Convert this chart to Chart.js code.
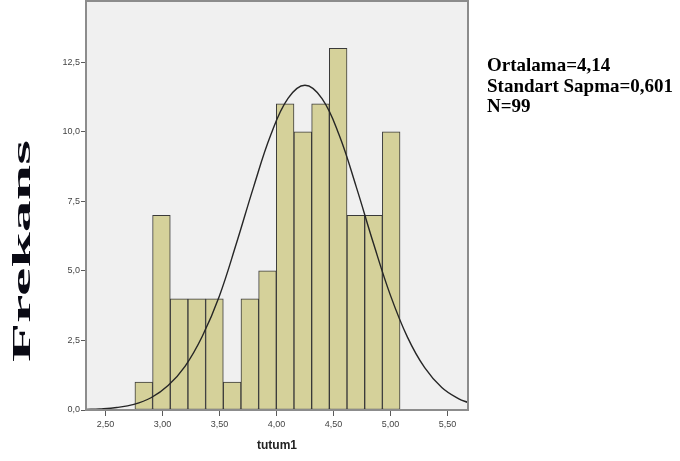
<!DOCTYPE html>
<html>
<head>
<meta charset="utf-8">
<script src="https://cdn.jsdelivr.net/npm/chart.js@4/dist/chart.umd.min.js"></script>
<style>
  html, body { margin: 0; padding: 0; background: #ffffff; }
  canvas { display: block; }
</style>
</head>
<body>
<canvas id="hist" width="680" height="461"></canvas>
<script>
// Histogram bins of tutum1 (bin centres) and their frequencies
const binCenters = [2.8365, 2.9915, 3.1465, 3.3015, 3.4565, 3.6115, 3.7665, 3.9215,
                    4.0765, 4.2315, 4.3865, 4.5415, 4.6965, 4.8515, 5.0065];
const frequencies = [1, 7, 4, 4, 4, 1, 4, 5, 11, 10, 11, 13, 7, 7, 10];

// Fitted normal curve, sampled along the x axis
const curveX = [2.33, 2.45, 2.60, 2.75, 2.90, 3.05, 3.20, 3.35, 3.50, 3.65, 3.80, 3.95,
                4.10, 4.25, 4.40, 4.55, 4.70, 4.85, 5.00, 5.15, 5.30, 5.45, 5.60, 5.68];
const curveY = [0.02, 0.04, 0.09, 0.20, 0.44, 0.88, 1.58, 2.65, 4.10, 6.00, 8.02, 9.88,
                11.19, 11.67, 11.19, 9.88, 8.02, 6.00, 4.12, 2.61, 1.52, 0.81, 0.40, 0.27];

// Axis ticks
const xTicks = [2.5, 3.0, 3.5, 4.0, 4.5, 5.0, 5.5];
const yTicks = [0, 2.5, 5.0, 7.5, 10.0, 12.5];

// Statistics shown beside the plot
const statLines = ['Ortalama=4,14', 'Standart Sapma=0,601', 'N=99'];
const yTitle = 'Frekans';
const xTitle = 'tutum1';

const histData = binCenters.map((x, i) => ({ x: x, y: frequencies[i] }));
const curveData = curveX.map((x, i) => ({ x: x, y: curveY[i] }));

const decorations = {
  id: 'decorations',
  beforeDatasetsDraw(chart) {
    const { ctx, chartArea: a } = chart;
    ctx.save();
    ctx.fillStyle = '#f0f0f0';
    ctx.fillRect(a.left, a.top, a.right - a.left, a.bottom - a.top);
    ctx.restore();
  },
  afterDatasetsDraw(chart) {
    const { ctx, chartArea: a } = chart;
    ctx.save();
    // plot frame
    ctx.strokeStyle = '#8c8c8c';
    ctx.lineWidth = 2;
    ctx.strokeRect(a.left, a.top, a.right - a.left, a.bottom - a.top);

    // y axis title, stretched along the axis
    ctx.save();
    ctx.font = 'bold 26px "Liberation Serif", "DejaVu Serif", serif';
    const w = ctx.measureText(yTitle).width;
    ctx.translate(30, 251);
    ctx.rotate(-Math.PI / 2);
    ctx.scale(222 / w, 1);
    ctx.fillStyle = '#0a0a14';
    ctx.textAlign = 'center';
    ctx.textBaseline = 'alphabetic';
    ctx.fillText(yTitle, 0, 0);
    ctx.restore();

    // x axis title
    ctx.font = 'bold 12px "Liberation Sans", Arial, sans-serif';
    ctx.fillStyle = '#222';
    ctx.textAlign = 'center';
    ctx.textBaseline = 'middle';
    ctx.fillText(xTitle, (a.left + a.right) / 2, 446);

    // statistics block
    ctx.font = 'bold 19px "Liberation Serif", "DejaVu Serif", serif';
    ctx.fillStyle = '#000';
    ctx.textAlign = 'left';
    ctx.textBaseline = 'alphabetic';
    const baselines = [71, 92, 112];
    statLines.forEach((t, i) => ctx.fillText(t, 487, baselines[i]));
    ctx.restore();
  }
};

new Chart(document.getElementById('hist'), {
  type: 'bar',
  data: {
    datasets: [
      {
        type: 'line',
        data: curveData,
        borderColor: '#262626',
        borderWidth: 1.4,
        pointRadius: 0,
        tension: 0.4,
        fill: false,
        order: 0
      },
      {
        type: 'bar',
        data: histData,
        backgroundColor: '#d5d19a',
        borderColor: '#3a3a3a',
        borderWidth: 1,
        borderSkipped: false,
        barPercentage: 1,
        categoryPercentage: 1,
        order: 1
      }
    ]
  },
  options: {
    responsive: false,
    animation: false,
    events: [],
    layout: { padding: { top: 1, right: 212, left: 0, bottom: 0 } },
    plugins: { legend: { display: false }, tooltip: { enabled: false } },
    scales: {
      x: {
        type: 'linear',
        min: 2.33,
        max: 5.68,
        offset: false,
        afterFit(scale) {
          scale.height = 51;
          scale.paddingLeft = 0;
          scale.paddingRight = 0;
        },
        afterBuildTicks(scale) { scale.ticks = xTicks.map(v => ({ value: v })); },
        border: { display: false },
        grid: { offset: false, drawOnChartArea: false, drawTicks: true, tickLength: 6, color: '#5a5a5a', lineWidth: 1 },
        ticks: {
          padding: 3,
          maxRotation: 0,
          autoSkip: false,
          color: '#444',
          font: { family: '"Liberation Sans", Arial, sans-serif', size: 9 },
          callback: v => v.toFixed(2).replace('.', ',')
        }
      },
      y: {
        min: 0,
        max: 14.7,
        afterFit(scale) {
          scale.width = 86;
          scale.paddingTop = 0;
          scale.paddingBottom = 0;
        },
        afterBuildTicks(scale) { scale.ticks = yTicks.map(v => ({ value: v })); },
        border: { display: false },
        grid: { drawOnChartArea: false, drawTicks: true, tickLength: 5, color: '#5a5a5a', lineWidth: 1 },
        ticks: {
          padding: 1,
          autoSkip: false,
          color: '#444',
          font: { family: '"Liberation Sans", Arial, sans-serif', size: 9 },
          callback: v => v.toFixed(1).replace('.', ',')
        }
      }
    }
  },
  plugins: [decorations]
});
</script>
</body>
</html>
